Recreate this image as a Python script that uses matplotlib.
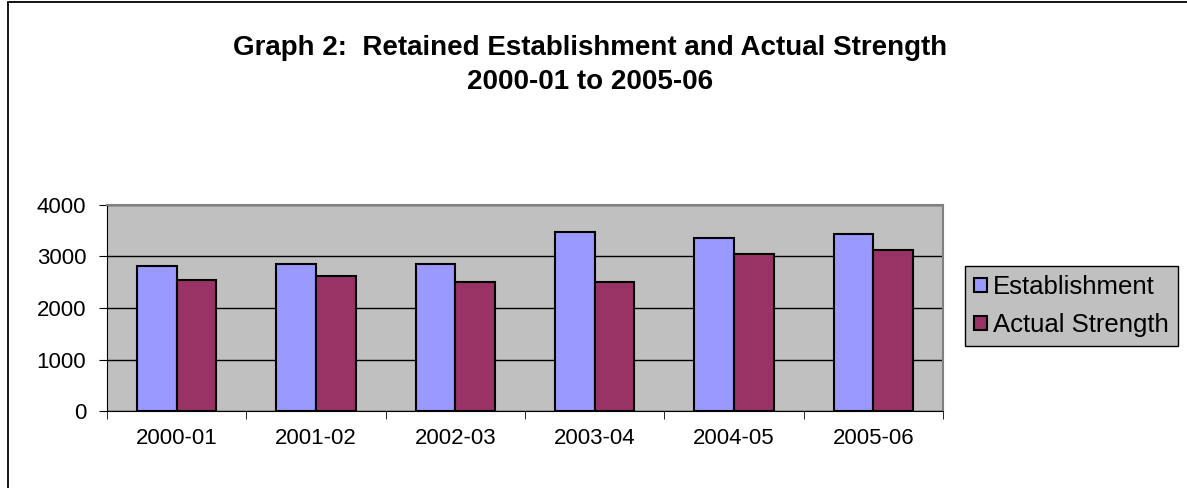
import matplotlib.pyplot as plt
import numpy as np
from matplotlib.patches import Rectangle

plt.rcParams['font.family'] = ['Liberation Sans', 'DejaVu Sans']

years = ["2000-01", "2001-02", "2002-03", "2003-04", "2004-05", "2005-06"]
establishment = [2810, 2850, 2850, 3470, 3360, 3430]
actual_strength = [2540, 2625, 2500, 2500, 3045, 3120]

W, H = 1187, 488
fig = plt.figure(figsize=(W / 100, H / 100), dpi=100)
fig.patch.set_facecolor("white")
# outer chart border (right and bottom edges fall outside the image)
fig.patches.append(Rectangle((8 / W, -0.1), 1.2, 1 - 2.5 / H + 0.1,
                             transform=fig.transFigure, fill=False,
                             edgecolor="black", lw=1.3))

ax = fig.add_axes([107 / W, 1 - 411 / H, (943 - 107) / W, (411 - 205) / H])
ax.set_facecolor("#C0C0C0")

x = np.arange(len(years))
bw = 0.285
ax.bar(x - bw / 2, establishment, bw, color="#9999FF", edgecolor="black",
       lw=1.5, label="Establishment", zorder=3)
ax.bar(x + bw / 2, actual_strength, bw, color="#993366", edgecolor="black",
       lw=1.5, label="Actual Strength", zorder=3)

ax.set_xlim(-0.5, len(years) - 0.5)
ax.set_ylim(0, 4000)
ax.set_yticks(np.arange(0, 4001, 1000))
ax.yaxis.grid(True, color="black", lw=1, zorder=1)
ax.set_axisbelow(True)

ax.set_xticks(x)
ax.set_xticklabels(years, fontsize=16)
ax.set_xticks(np.arange(-0.5, len(years)), minor=True)
ax.tick_params(axis="x", which="major", length=0, pad=12)
ax.tick_params(axis="x", which="minor", length=6, direction="out", color="black")
ax.tick_params(axis="y", labelsize=16, length=6, direction="out", pad=9)

for side in ["top", "right"]:
    ax.spines[side].set_color("#808080")
    ax.spines[side].set_linewidth(1.5)
ax.spines["left"].set_color("black")
ax.spines["bottom"].set_color("black")

fig.text(0.497, 1 - 48 / H, "Graph 2:  Retained Establishment and Actual Strength",
         ha="center", va="center", fontsize=20, fontweight="bold")
fig.text(0.497, 1 - 82 / H, "2000-01 to 2005-06",
         ha="center", va="center", fontsize=20, fontweight="bold")

leg = fig.legend(loc="upper left", bbox_to_anchor=(965 / W, 1 - 266 / H),
                 borderaxespad=0, fontsize=18.5, frameon=True, fancybox=False,
                 handlelength=0.5, handleheight=0.5, handletextpad=0.25,
                 labelspacing=0.55, borderpad=0.35)
leg.get_frame().set_facecolor("#C0C0C0")
leg.get_frame().set_edgecolor("black")
leg.get_frame().set_linewidth(1)
leg.get_frame().set_alpha(1)

fig.savefig("out.png", dpi=100)
